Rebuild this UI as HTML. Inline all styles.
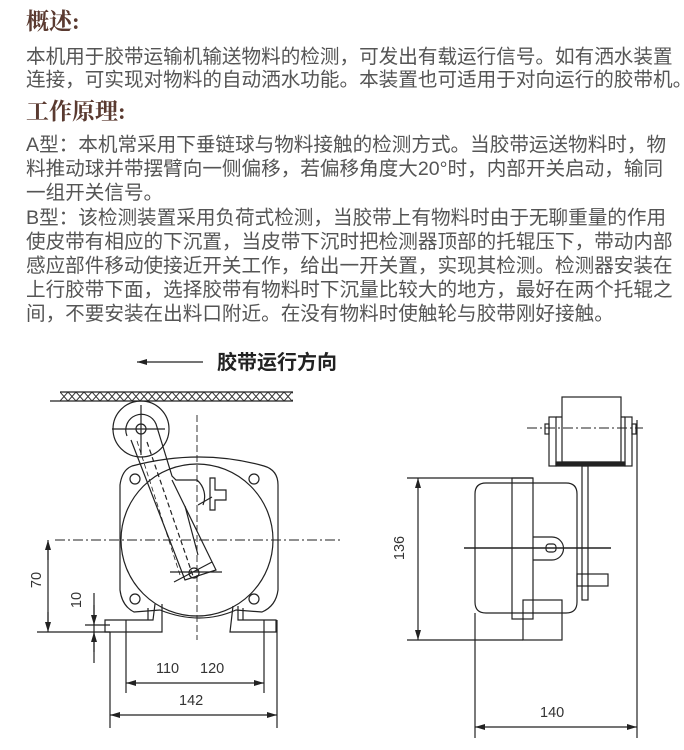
<!DOCTYPE html>
<html><head><meta charset="utf-8"><style>
html,body{margin:0;padding:0;background:#fff;width:684px;height:750px;overflow:hidden;position:relative}
.h{position:absolute;left:26px;font-family:"Liberation Serif","Noto Serif CJK SC",serif;font-weight:bold;font-size:23px;color:#5a3a30;line-height:24px;white-space:nowrap}
.t{position:absolute;left:26px;font-family:"Liberation Sans","Noto Sans CJK SC",sans-serif;font-size:19.6px;color:#555;line-height:24px;white-space:nowrap}
svg{position:absolute;left:0;top:0}
</style></head><body>
<div class="h" style="top:10px">概述:</div>
<div class="t" style="top:45px">本机用于胶带运输机输送物料的检测，可发出有载运行信号。如有洒水装置</div>
<div class="t" style="top:68px">连接，可实现对物料的自动洒水功能。本装置也可适用于对向运行的胶带机。</div>
<div class="h" style="top:100px">工作原理:</div>
<div class="t" style="top:133px">A型：本机常采用下垂链球与物料接触的检测方式。当胶带运送物料时，物</div>
<div class="t" style="top:157px">料推动球并带摆臂向一侧偏移，若偏移角度大20°时，内部开关启动，输同</div>
<div class="t" style="top:181px">一组开关信号。</div>
<div class="t" style="top:206px">B型：该检测装置采用负荷式检测，当胶带上有物料时由于无聊重量的作用</div>
<div class="t" style="top:230px">使皮带有相应的下沉置，当皮带下沉时把检测器顶部的托辊压下，带动内部</div>
<div class="t" style="top:254px">感应部件移动使接近开关工作，给出一开关置，实现其检测。检测器安装在</div>
<div class="t" style="top:278px">上行胶带下面，选择胶带有物料时下沉量比较大的地方，最好在两个托辊之</div>
<div class="t" style="top:302px">间，不要安装在出料口附近。在没有物料时使触轮与胶带刚好接触。</div>

<svg width="684" height="750" viewBox="0 0 684 750">
<defs>
<marker id="a" markerWidth="10" markerHeight="6" refX="10" refY="3" orient="auto" markerUnits="userSpaceOnUse"><path d="M0,0 L10,3 L0,6 Z" fill="#222"/></marker>
<pattern id="z" width="8" height="9" patternUnits="userSpaceOnUse" x="60" y="392"><path d="M0,0 L8,9 M8,0 L0,9" stroke="#333" stroke-width="1"/></pattern>
</defs>
<g fill="none" stroke="#222" stroke-width="1.2">
<line x1="203" y1="362" x2="137" y2="362" marker-end="url(#a)"/>
<rect x="60" y="392" width="233" height="9" fill="url(#z)" stroke="none"/>
<line x1="60" y1="392" x2="293" y2="392"/>
<line x1="50" y1="401" x2="293" y2="401"/>
<circle cx="141" cy="429" r="28"/>
<line x1="112" y1="429" x2="165" y2="429"/><line x1="141" y1="405" x2="141" y2="455"/>
<path d="M127,436 A15,15 0 1 1 156,424 L172,476 L176,480 L197,480 A22,22 0 0 1 203,505 M172,480 L216,570 L185,580 L131,440"/>
<circle cx="141" cy="429" r="5"/>
<path d="M147,442 L193,576" stroke-dasharray="5,3"/>
<path d="M137,441 L180,575" stroke-dasharray="5,3" stroke-width="0.8"/>
<line x1="170" y1="572" x2="222" y2="572"/><line x1="174" y1="582" x2="212" y2="562"/>
<circle cx="194" cy="573" r="5"/>
<line x1="185" y1="506" x2="198" y2="555"/>
<line x1="198" y1="505" x2="212" y2="497"/>
<path d="M210,478 L215,478 L215,490 L226,490 L226,500 L215,500 L215,510 L210,510 Z"/>
<path d="M132,466 Q200,448 264,466 Q278,470 278,485 L278,590 Q276,606 262,612 L236,610 Q200,626 160,610 L134,612 Q122,606 120,590 L120,485 Q122,470 132,466 Z"/>
<circle cx="197" cy="540" r="76"/>
<circle cx="135" cy="479" r="5"/><circle cx="254" cy="479" r="5"/>
<circle cx="135" cy="599" r="5"/><circle cx="254" cy="599" r="5"/>
<line x1="197" y1="415" x2="197" y2="640" stroke-dasharray="7,3" stroke-width="0.9"/>
<line x1="55" y1="540" x2="340" y2="540" stroke-dasharray="10,3,2,3" stroke-width="0.9"/>
<path d="M155,604 L153,620 L105,620 L105,632 L162,632 L162,604"/>
<line x1="148" y1="608" x2="148" y2="620"/>
<path d="M233,606 L230,632 L276,632 L276,620 L238,620 L238,606"/>
<line x1="243" y1="608" x2="243" y2="620"/>
<line x1="37" y1="632" x2="110" y2="632"/>
<line x1="85" y1="625" x2="110" y2="625"/>
<line x1="48" y1="550" x2="48" y2="622"/>
<line x1="48" y1="560" x2="48" y2="540" marker-end="url(#a)"/>
<line x1="48" y1="612" x2="48" y2="632" marker-end="url(#a)"/>
<line x1="94" y1="593" x2="94" y2="663"/>
<line x1="94" y1="605" x2="94" y2="625" marker-end="url(#a)"/>
<line x1="94" y1="652" x2="94" y2="632" marker-end="url(#a)"/>
<line x1="126" y1="620" x2="126" y2="693"/><line x1="264" y1="620" x2="264" y2="693"/>
<line x1="195" y1="683" x2="126" y2="683" marker-end="url(#a)"/>
<line x1="195" y1="683" x2="264" y2="683" marker-end="url(#a)"/>
<line x1="110" y1="632" x2="110" y2="728"/><line x1="277" y1="620" x2="277" y2="728"/>
<line x1="195" y1="715" x2="110" y2="715" marker-end="url(#a)"/>
<line x1="195" y1="715" x2="277" y2="715" marker-end="url(#a)"/>

<rect x="562" y="397" width="59" height="65"/>
<rect x="549" y="417" width="7" height="49"/><rect x="625" y="417" width="7" height="49"/>
<rect x="545" y="424" width="4" height="10"/><rect x="632" y="424" width="4" height="10"/>
<path d="M556,417 L562,417 M621,417 L625,417"/>
<rect x="556" y="462" width="69" height="4" fill="#222"/>
<line x1="527" y1="428" x2="643" y2="428" stroke-dasharray="10,3,2,3" stroke-width="0.9"/>
<line x1="637" y1="420" x2="637" y2="738"/>
<rect x="582" y="466" width="6" height="134"/>
<path d="M486,483 L566,483 Q577,483 577,494 L577,602 Q577,613 566,613 L486,613 Q475,613 475,602 L475,494 Q475,483 486,483 Z"/>
<rect x="512" y="478" width="21" height="141"/>
<path d="M533,537 L552,537 A11,11 0 0 1 552,560 L533,560"/>
<rect x="546" y="544" width="10" height="8" rx="3"/>
<line x1="464" y1="548" x2="611" y2="548" stroke-width="1.6"/>
<rect x="577" y="574" width="31" height="12"/>
<rect x="523" y="600" width="39" height="40"/>
<line x1="407" y1="478" x2="533" y2="478"/><line x1="407" y1="640" x2="523" y2="640"/>
<line x1="418" y1="500" x2="418" y2="618"/>
<line x1="418" y1="500" x2="418" y2="478" marker-end="url(#a)"/>
<line x1="418" y1="618" x2="418" y2="640" marker-end="url(#a)"/>
<line x1="475" y1="613" x2="475" y2="738"/>
<line x1="556" y1="727" x2="475" y2="727" marker-end="url(#a)"/>
<line x1="556" y1="727" x2="637" y2="727" marker-end="url(#a)"/>
</g>
<g font-family="Liberation Sans, sans-serif" font-size="14.5" fill="#333">
<text x="217" y="369" font-family="Liberation Sans, Noto Sans CJK SC, sans-serif" font-size="20" font-weight="bold" fill="#222">胶带运行方向</text>
<text transform="translate(41,580) rotate(-90)" text-anchor="middle">70</text>
<text transform="translate(81,600) rotate(-90)" text-anchor="middle">10</text>
<text x="156" y="673">110</text><text x="200" y="673">120</text>
<text x="179" y="705">142</text>
<text transform="translate(404,548) rotate(-90)" text-anchor="middle">136</text>
<text x="540" y="717">140</text>
</g>
</svg>
</body></html>
